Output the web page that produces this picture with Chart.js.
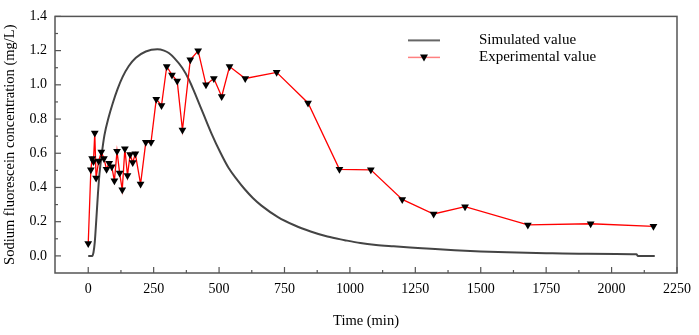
<!DOCTYPE html>
<html>
<head>
<meta charset="utf-8">
<script src="https://cdn.jsdelivr.net/npm/chart.js@4.4.0/dist/chart.umd.min.js"></script>
<style>
  html, body { margin: 0; padding: 0; background: #fff; }
  #wrap { width: 699px; height: 335px; }
</style>
</head>
<body>
<div id="wrap"><canvas id="chart"></canvas></div>
<script>
// ---- data ----
const expTime = [0, 10, 15, 20, 25, 30, 40, 50, 60, 70, 80, 90, 100, 110, 120, 130, 140, 150, 160, 170, 180,
  200, 220, 240, 260, 280, 300, 320, 340, 360, 390, 420, 450, 480, 510, 540, 600, 720, 840, 960, 1080,
  1200, 1320, 1440, 1680, 1920, 2160];
const expConc = [0.073, 0.503, 0.57, 0.552, 0.719, 0.456, 0.555, 0.608, 0.57, 0.506, 0.542, 0.521, 0.439, 0.612, 0.484, 0.386, 0.627, 0.47, 0.593, 0.546, 0.597,
  0.42, 0.665, 0.665, 0.916, 0.879, 1.107, 1.058, 1.022, 0.736, 1.146, 1.199, 1.001, 1.037, 0.932, 1.107, 1.037, 1.073, 0.894, 0.506, 0.503,
  0.33, 0.245, 0.288, 0.181, 0.188, 0.173];

const simTime = [0, 15, 20, 25, 31, 37, 43, 52, 62, 78, 94, 112, 131, 155, 182, 220, 264, 290, 308, 330, 359, 385,
  409, 440, 472, 505, 536, 570, 599, 630, 662, 725, 788, 850, 914, 980, 1040, 1100, 1167, 1230, 1293,
  1400, 1500, 1600, 1750, 1900, 2095, 2100, 2165];
const simConc = [0, 0, 0.02, 0.08, 0.216, 0.36, 0.48, 0.6, 0.706, 0.81, 0.894, 0.975, 1.045, 1.11, 1.158, 1.195, 1.208, 1.2, 1.186, 1.155, 1.1, 1.03,
  0.945, 0.83, 0.712, 0.604, 0.515, 0.443, 0.388, 0.337, 0.294, 0.227, 0.179, 0.143, 0.113, 0.092, 0.075, 0.064, 0.056, 0.049, 0.043,
  0.033, 0.026, 0.021, 0.016, 0.013, 0.01, 0, 0];

const xTicks = [0, 250, 500, 750, 1000, 1250, 1500, 1750, 2000, 2250];
const yTicks = [0, 0.2, 0.4, 0.6, 0.8, 1.0, 1.2, 1.4];

const legendLabels = ["Simulated value", "Experimental value"];

const serif = "'Liberation Serif', 'Times New Roman', serif";

// ---- frame, inward ticks and legend ----
const framePlugin = {
  id: "frame",
  afterDatasetsDraw(chart) {
    const { ctx, chartArea: a, scales } = chart;
    ctx.save();
    ctx.strokeStyle = "#555";
    ctx.lineWidth = 1.5;
    ctx.strokeRect(a.left, a.top, a.right - a.left, a.bottom - a.top);

    // x ticks (major every 250, minor in between)
    ctx.lineWidth = 1.2;
    for (let v = 0; v <= 2250; v += 125) {
      const px = scales.x.getPixelForValue(v);
      const len = v % 250 === 0 ? 6 : 3;
      ctx.beginPath();
      ctx.moveTo(px, a.bottom);
      ctx.lineTo(px, a.bottom - len);
      ctx.stroke();
    }
    // y ticks (major every 0.2, minor at 0.1)
    for (let i = 0; i <= 14; i++) {
      const py = scales.y.getPixelForValue(i / 10);
      const len = i % 2 === 0 ? 6 : 3;
      ctx.beginPath();
      ctx.moveTo(a.left, py);
      ctx.lineTo(a.left + len, py);
      ctx.stroke();
    }

    // legend
    const lx = a.left + 353, tx = a.left + 424;
    const rows = [a.top + 24, a.top + 41];
    ctx.lineWidth = 2;
    ctx.strokeStyle = "#666";
    ctx.beginPath();
    ctx.moveTo(lx, rows[0]);
    ctx.lineTo(lx + 32, rows[0]);
    ctx.stroke();
    ctx.strokeStyle = "#ff8080";
    ctx.lineWidth = 1.5;
    ctx.beginPath();
    ctx.moveTo(lx, rows[1]);
    ctx.lineTo(lx + 32, rows[1]);
    ctx.stroke();
    ctx.fillStyle = "#000";
    ctx.beginPath();
    ctx.moveTo(lx + 12, rows[1] - 3);
    ctx.lineTo(lx + 20, rows[1] - 3);
    ctx.lineTo(lx + 16, rows[1] + 4);
    ctx.closePath();
    ctx.fill();

    ctx.font = "15px " + serif;
    ctx.textBaseline = "middle";
    ctx.textAlign = "left";
    ctx.fillText(legendLabels[0], tx, rows[0]);
    ctx.fillText(legendLabels[1], tx, rows[1]);
    ctx.restore();
  }
};

const ctx = document.getElementById("chart").getContext("2d");
new Chart(ctx, {
  type: "scatter",
  data: {
    datasets: [
      {
        label: legendLabels[1],
        data: expTime.map((t, i) => ({ x: t, y: expConc[i] })),
        showLine: true,
        borderColor: "#ff0000",
        borderWidth: 1.3,
        pointStyle: "triangle",
        rotation: 180,
        pointRadius: 4.5,
        pointBackgroundColor: "#000",
        pointBorderColor: "#000",
        pointBorderWidth: 0,
        order: 0
      },
      {
        label: legendLabels[0],
        data: simTime.map((t, i) => ({ x: t, y: simConc[i] })),
        showLine: true,
        borderColor: "#444",
        borderWidth: 2,
        pointRadius: 0,
        cubicInterpolationMode: "monotone",
        order: 1
      }
    ]
  },
  options: {
    responsive: true,
    maintainAspectRatio: false,
    animation: false,
    layout: { padding: { top: 6, right: 17, left: 0, bottom: 0 } },
    plugins: {
      legend: { display: false },
      tooltip: { enabled: false }
    },
    scales: {
      x: {
        type: "linear",
        min: -127,
        max: 2250,
        afterBuildTicks: (s) => { s.ticks = xTicks.map(v => ({ value: v })); },
        afterFit: (s) => { s.height = 62; },
        grid: { display: false, drawTicks: false },
        border: { display: false },
        ticks: {
          padding: 8,
          color: "#000",
          font: { family: serif, size: 14 },
          maxRotation: 0,
          callback: (v) => String(v)
        },
        title: {
          display: true,
          text: "Time (min)",
          color: "#000",
          font: { family: serif, size: 14.5 },
          padding: { top: 0, bottom: 5 }
        }
      },
      y: {
        type: "linear",
        min: -0.1,
        max: 1.4,
        afterBuildTicks: (s) => { s.ticks = yTicks.map(v => ({ value: v })); },
        afterFit: (s) => { s.width = 55; },
        grid: { display: false, drawTicks: false },
        border: { display: false },
        ticks: {
          padding: 8,
          color: "#000",
          font: { family: serif, size: 14 },
          callback: (v) => Number(v).toFixed(1)
        },
        title: {
          display: true,
          text: "Sodium fluorescein concentration (mg/L)",
          color: "#000",
          font: { family: serif, size: 14.5 },
          padding: { top: 1, bottom: 0 }
        }
      }
    }
  },
  plugins: [framePlugin]
});
</script>
</body>
</html>
